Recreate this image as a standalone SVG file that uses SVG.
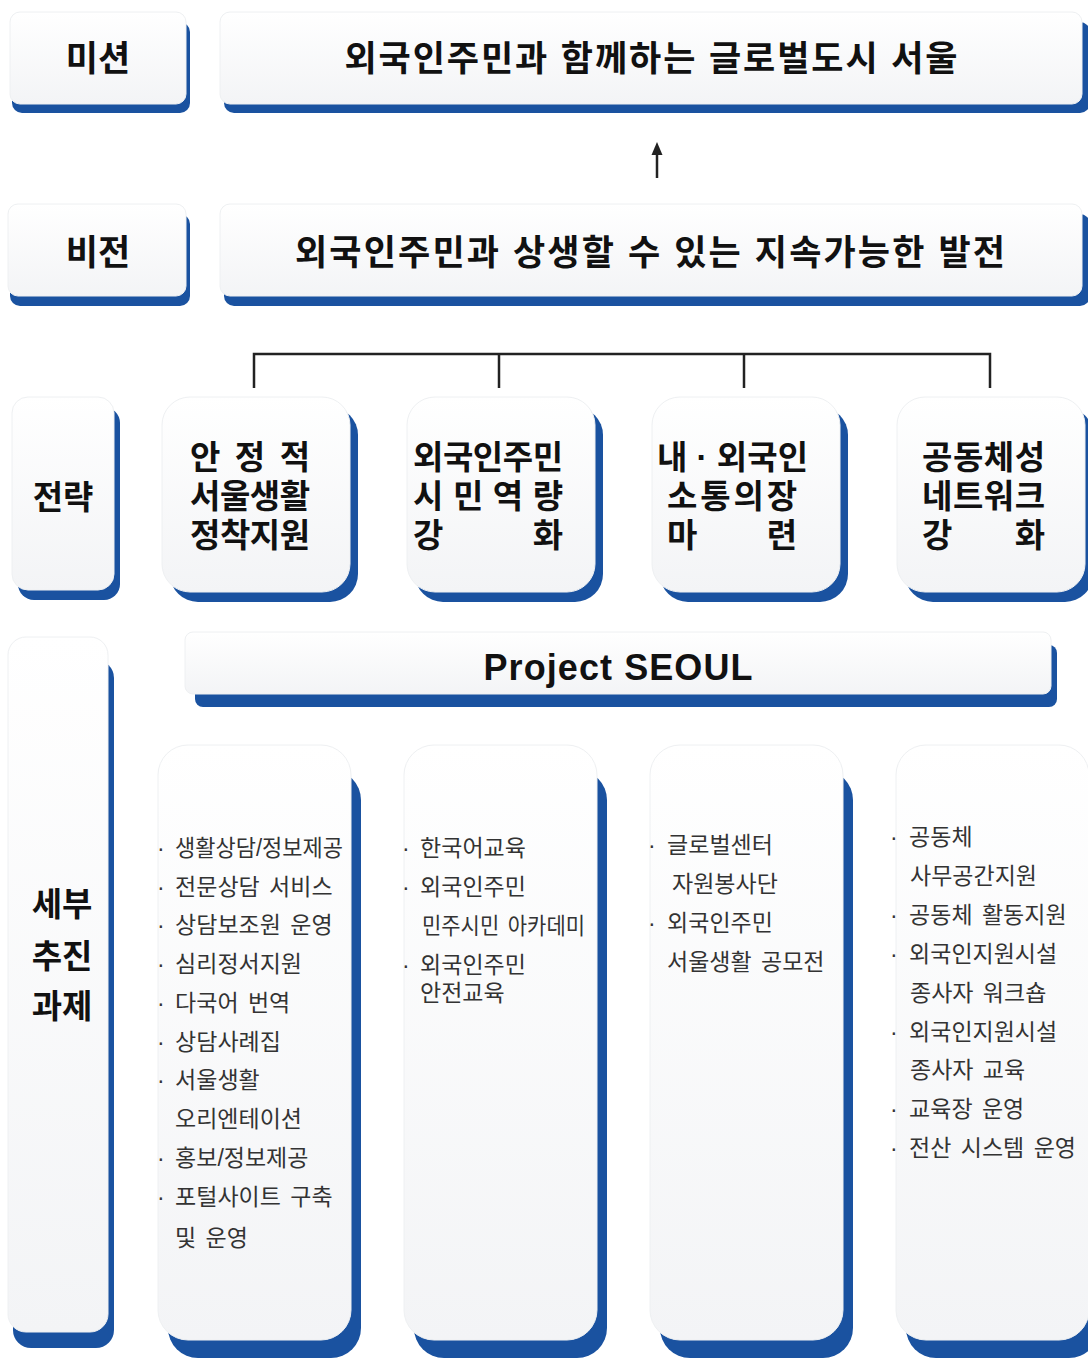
<svg xmlns="http://www.w3.org/2000/svg" width="1088" height="1361" viewBox="0 0 1088 1361">
<defs>
<linearGradient id="g" x1="0" y1="0" x2="0" y2="1">
<stop offset="0" stop-color="#ffffff"/>
<stop offset="1" stop-color="#f3f4f6"/>
</linearGradient>
<style>
.box{fill:url(#g);stroke:#eef0f2;stroke-width:1}
.sh{fill:#1a52a0}
.t{font-family:"Liberation Sans","Noto Sans CJK KR",sans-serif;font-weight:bold;fill:#111}
.h{font-size:35px}
.m{font-size:33px}
.s{font-family:"Liberation Sans","Noto Sans CJK KR",sans-serif;font-size:23px;fill:#333;word-spacing:3px}
.conn{stroke:#222;stroke-width:2.5;fill:none}
</style>
</defs>
<rect width="1088" height="1361" fill="#ffffff"/>

<g id="mission-label">
<rect class="sh" x="12" y="22" width="178" height="91" rx="10"/>
<rect class="box" x="10" y="12" width="176" height="92" rx="10"/>
<text class="t h" x="98" y="71" text-anchor="middle">미션</text>
</g>
<g id="mission">
<rect class="sh" x="224" y="22" width="866" height="91" rx="10"/>
<rect class="box" x="220" y="12" width="862" height="92" rx="10"/>
<text class="t h" x="651" y="71" text-anchor="middle" textLength="613" lengthAdjust="spacing">외국인주민과 함께하는 글로벌도시 서울</text>
</g>

<g id="vision-label">
<rect class="sh" x="10" y="214" width="180" height="92" rx="10"/>
<rect class="box" x="8" y="204" width="178" height="92" rx="10"/>
<text class="t h" x="98" y="265" text-anchor="middle">비전</text>
</g>
<g id="vision">
<rect class="sh" x="224" y="214" width="866" height="92" rx="10"/>
<rect class="box" x="220" y="204" width="862" height="92" rx="10"/>
<text class="t h" x="650" y="265" text-anchor="middle" textLength="710" lengthAdjust="spacing">외국인주민과 상생할 수 있는 지속가능한 발전</text>
</g>

<g id="connectors">
<line class="conn" x1="657" y1="178" x2="657" y2="152"/>
<polygon points="657,142 651.5,155 662.5,155" fill="#222"/>
<polyline class="conn" points="254,388 254,354 990,354 990,388"/>
<line class="conn" x1="499" y1="354" x2="499" y2="388"/>
<line class="conn" x1="744" y1="354" x2="744" y2="388"/>
</g>

<g id="strategy-label">
<rect class="sh" x="18" y="407" width="102" height="193" rx="16"/>
<rect class="box" x="12" y="397" width="102" height="193" rx="16"/>
<text class="t m" x="63" y="509" text-anchor="middle">전략</text>
</g>

<g id="strategy-1">
<rect class="sh" x="170" y="407" width="188" height="195" rx="28"/>
<rect class="box" x="162" y="397" width="188" height="195" rx="28"/>
<text class="t m" x="190" y="469" textLength="120" lengthAdjust="spacing">안 정 적</text>
<text class="t m" x="190" y="508" textLength="120" lengthAdjust="spacing">서울생활</text>
<text class="t m" x="190" y="547" textLength="120" lengthAdjust="spacing">정착지원</text>
</g>
<g id="strategy-2">
<rect class="sh" x="415" y="407" width="188" height="195" rx="28"/>
<rect class="box" x="407" y="397" width="188" height="195" rx="28"/>
<text class="t m" x="413" y="469" textLength="150" lengthAdjust="spacing">외국인주민</text>
<text class="t m" x="413" y="508" textLength="150" lengthAdjust="spacing">시 민 역 량</text>
<text class="t m" x="413" y="547" textLength="150" lengthAdjust="spacing">강 화</text>
</g>
<g id="strategy-3">
<rect class="sh" x="660" y="407" width="188" height="195" rx="28"/>
<rect class="box" x="652" y="397" width="188" height="195" rx="28"/>
<text class="t m" x="657" y="469" textLength="151" lengthAdjust="spacing">내 · 외국인</text>
<text class="t m" x="667" y="508" textLength="130" lengthAdjust="spacing">소통의장</text>
<text class="t m" x="667" y="547" textLength="130" lengthAdjust="spacing">마 련</text>
</g>
<g id="strategy-4">
<rect class="sh" x="905" y="407" width="188" height="195" rx="28"/>
<rect class="box" x="897" y="397" width="188" height="195" rx="28"/>
<text class="t m" x="922" y="469" textLength="123" lengthAdjust="spacing">공동체성</text>
<text class="t m" x="922" y="508" textLength="123" lengthAdjust="spacing">네트워크</text>
<text class="t m" x="922" y="547" textLength="123" lengthAdjust="spacing">강 화</text>
</g>

<g id="project-seoul">
<rect class="sh" x="195" y="645" width="862" height="62" rx="8"/>
<rect class="box" x="185" y="632" width="866" height="62" rx="8"/>
<text class="t" x="618" y="680" text-anchor="middle" font-size="36" textLength="269" lengthAdjust="spacing">Project SEOUL</text>
</g>

<g id="tasks-label">
<rect class="sh" x="13" y="660" width="101" height="688" rx="18"/>
<rect class="box" x="8" y="637" width="100" height="695" rx="18"/>
<text class="t m" x="62" y="916" text-anchor="middle">세부</text>
<text class="t m" x="62" y="968" text-anchor="middle">추진</text>
<text class="t m" x="62" y="1018" text-anchor="middle">과제</text>
</g>

<g id="tasks-1">
<rect class="sh" x="168" y="770" width="193" height="588" rx="30"/>
<rect class="box" x="158" y="745" width="193" height="595" rx="30"/>
<text class="s" x="157" y="856">·<tspan dx="1"> </tspan><tspan textLength="168" lengthAdjust="spacingAndGlyphs">생활상담/정보제공</tspan></text>
<text class="s" x="157" y="895">·<tspan dx="1"> 전문상담 서비스</tspan></text>
<text class="s" x="157" y="933">·<tspan dx="1"> 상담보조원 운영</tspan></text>
<text class="s" x="157" y="972">·<tspan dx="1"> 심리정서지원</tspan></text>
<text class="s" x="157" y="1011">·<tspan dx="1"> 다국어 번역</tspan></text>
<text class="s" x="157" y="1050">·<tspan dx="1"> 상담사례집</tspan></text>
<text class="s" x="157" y="1088">·<tspan dx="1"> 서울생활</tspan></text>
<text class="s" x="175" y="1127">오리엔테이션</text>
<text class="s" x="157" y="1166">·<tspan dx="1"> 홍보/정보제공</tspan></text>
<text class="s" x="157" y="1205">·<tspan dx="1"> 포털사이트 구축</tspan></text>
<text class="s" x="175" y="1246">및 운영</text>
</g>
<g id="tasks-2">
<rect class="sh" x="414" y="770" width="193" height="588" rx="30"/>
<rect class="box" x="404" y="745" width="193" height="595" rx="30"/>
<text class="s" x="402" y="856">·<tspan dx="1"> 한국어교육</tspan></text>
<text class="s" x="402" y="895">·<tspan dx="1"> 외국인주민</tspan></text>
<text class="s" x="422" y="934" textLength="163" lengthAdjust="spacingAndGlyphs">민주시민 아카데미</text>
<text class="s" x="402" y="973">·<tspan dx="1"> 외국인주민</tspan></text>
<text class="s" x="420" y="1001">안전교육</text>
</g>
<g id="tasks-3">
<rect class="sh" x="660" y="770" width="193" height="588" rx="30"/>
<rect class="box" x="650" y="745" width="193" height="595" rx="30"/>
<text class="s" x="648" y="853">·<tspan dx="2"> 글로벌센터</tspan></text>
<text class="s" x="672" y="892">자원봉사단</text>
<text class="s" x="648" y="931">·<tspan dx="2"> 외국인주민</tspan></text>
<text class="s" x="667" y="970">서울생활 공모전</text>
</g>
<g id="tasks-4">
<rect class="sh" x="906" y="770" width="193" height="588" rx="30"/>
<rect class="box" x="896" y="745" width="193" height="595" rx="30"/>
<text class="s" x="890" y="845">·<tspan dx="2"> 공동체</tspan></text>
<text class="s" x="910" y="884">사무공간지원</text>
<text class="s" x="890" y="923">·<tspan dx="2"> 공동체 활동지원</tspan></text>
<text class="s" x="890" y="962">·<tspan dx="2"> 외국인지원시설</tspan></text>
<text class="s" x="910" y="1001">종사자 워크숍</text>
<text class="s" x="890" y="1040">·<tspan dx="2"> 외국인지원시설</tspan></text>
<text class="s" x="910" y="1078">종사자 교육</text>
<text class="s" x="890" y="1117">·<tspan dx="2"> 교육장 운영</tspan></text>
<text class="s" x="890" y="1156">·<tspan dx="2"> 전산 시스템 운영</tspan></text>
</g>
</svg>
